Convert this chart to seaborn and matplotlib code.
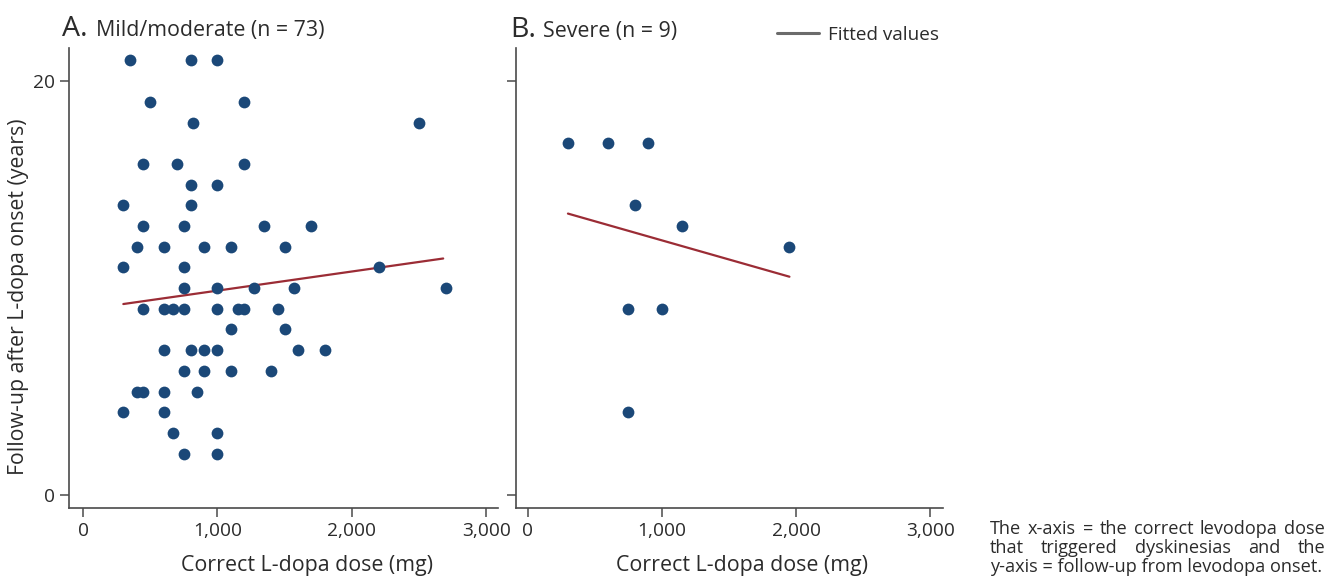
import matplotlib
matplotlib.use("Agg")
import matplotlib.pyplot as plt
import seaborn as sns
import pandas as pd
from matplotlib.lines import Line2D

# ---------------- data ----------------
mild_dose = [350, 800, 1000,
             500, 1200,
             820, 2500,
             450, 700, 1200,
             800, 1000,
             300, 800,
             450, 750, 1350, 1700,
             400, 600, 900, 1100, 1500,
             300, 750, 2200,
             750, 1000, 1275, 1570, 2700,
             450, 600, 670, 750, 1000, 1150, 1200, 1450,
             1100, 1500,
             600, 800, 900, 1000, 1600, 1800,
             750, 900, 1100, 1400,
             400, 450, 600, 850,
             300, 600,
             670, 1000,
             750, 1000]
mild_years = [21, 21, 21,
              19, 19,
              18, 18,
              16, 16, 16,
              15, 15,
              14, 14,
              13, 13, 13, 13,
              12, 12, 12, 12, 12,
              11, 11, 11,
              10, 10, 10, 10, 10,
              9, 9, 9, 9, 9, 9, 9, 9,
              8, 8,
              7, 7, 7, 7, 7, 7,
              6, 6, 6, 6,
              5, 5, 5, 5,
              4, 4,
              3, 3,
              2, 2]

severe_dose = [300, 600, 900, 800, 1150, 1950, 750, 1000, 750]
severe_years = [17, 17, 17, 14, 13, 12, 9, 9, 4]

fit_a_x = [300, 2680]
fit_a_y = [9.23, 11.43]
fit_b_x = [300, 1950]
fit_b_y = [13.6, 10.55]

x_ticks = [0, 1000, 2000, 3000]
x_ticklabels = ["0", "1,000", "2,000", "3,000"]
y_ticks = [0, 20]
y_ticklabels = ["0", "20"]

title_a_letter, title_a_text = "A.", "Mild/moderate (n = 73)"
title_b_letter, title_b_text = "B.", "Severe (n = 9)"
x_label = "Correct L-dopa dose (mg)"
y_label = "Follow-up after L-dopa onset (years)"
legend_label = "Fitted values"
caption_lines = ["The x-axis = the correct levodopa dose",
                 "that triggered dyskinesias and the",
                 "y-axis = follow-up from levodopa onset."]

# ---------------- style ----------------
sns.set_style("ticks")
plt.rcParams["font.family"] = ["Open Sans", "DejaVu Sans"]

POINT = "#1b4878"
FIT = "#9b2c35"
SPINE = "#4a4a4a"
TXT = "#2b2b2b"

W, H = 1327, 580
fig = plt.figure(figsize=(W / 100, H / 100), dpi=100)

axA_l, axA_r = 69.3, 498.3
axB_l, axB_r = 516, 943
ax_top, ax_bot = 48, 507.7
axA = fig.add_axes([axA_l / W, 1 - ax_bot / H, (axA_r - axA_l) / W, (ax_bot - ax_top) / H])
axB = fig.add_axes([axB_l / W, 1 - ax_bot / H, (axB_r - axB_l) / W, (ax_bot - ax_top) / H])

dfA = pd.DataFrame({"dose": mild_dose, "years": mild_years})
dfB = pd.DataFrame({"dose": severe_dose, "years": severe_years})
fitA = pd.DataFrame({"dose": fit_a_x, "years": fit_a_y})
fitB = pd.DataFrame({"dose": fit_b_x, "years": fit_b_y})

for ax, df, fit, xl in [(axA, dfA, fitA, (-102, 3090)), (axB, dfB, fitB, (-87, 3094))]:
    sns.scatterplot(data=df, x="dose", y="years", ax=ax, color=POINT, s=72,
                    linewidth=0, zorder=3)
    sns.lineplot(data=fit, x="dose", y="years", ax=ax, color=FIT, linewidth=1.6,
                 zorder=2)
    ax.set_xlim(*xl)
    ax.set_ylim(-0.61, 21.6)
    ax.set_xticks(x_ticks)
    ax.set_xticklabels(x_ticklabels)
    ax.set_yticks(y_ticks)
    ax.set_xlabel("")
    ax.set_ylabel("")
    for side in ["top", "right"]:
        ax.spines[side].set_visible(False)
    for side in ["left", "bottom"]:
        ax.spines[side].set_color(SPINE)
        ax.spines[side].set_linewidth(1.2)
    ax.tick_params(axis="both", length=6.5, width=1.1, color=SPINE,
                   labelsize=13.8, labelcolor=TXT, pad=4)

axA.set_yticklabels(y_ticklabels)
axB.set_yticklabels([])

# axis labels (centres)
for ax, l, r, cx in [(axA, axA_l, axA_r, 307), (axB, axB_l, axB_r, 742)]:
    ax.set_xlabel(x_label, fontsize=15.4, color=TXT)
    ax.xaxis.set_label_coords((cx - l) / (r - l), -(565 - ax_bot) / (ax_bot - ax_top))
    ax.xaxis.label.set_va("center")
fig.text(19 / W, 1 - 297 / H, y_label, rotation=90, fontsize=15.3, color=TXT,
         ha="center", va="center")

# titles
def title(x_px, y_px, letter, rest, gap):
    t1 = fig.text(x_px / W, 1 - y_px / H, letter, fontsize=20.5, color=TXT,
                  ha="left", va="baseline")
    fig.canvas.draw()
    bb = t1.get_window_extent()
    fig.text((bb.x1 + gap) / W, 1 - y_px / H, rest, fontsize=15.4, color=TXT,
             ha="left", va="baseline")

title(62.5, 36, title_a_letter, title_a_text, 8)
title(510, 37, title_b_letter, title_b_text, 7)

# legend
leg_handle = Line2D([], [], color="#6b6b6b", linewidth=2.2)
fig.legend([leg_handle], [legend_label], loc="center left",
           bbox_to_anchor=(760 / W, 1 - 35 / H), frameon=False,
           fontsize=13.6, handlelength=2.2, handletextpad=0.5,
           labelcolor=TXT)

# justified caption
renderer = fig.canvas.get_renderer()
left_px, right_px = 990, 1325
line_y = [529, 548, 567]
cap_fs = 13.1
for i, (line, yy) in enumerate(zip(caption_lines, line_y)):
    words = line.split(" ")
    if i == len(caption_lines) - 1:
        fig.text(left_px / W, 1 - yy / H, line, fontsize=cap_fs, color=TXT,
                 ha="left", va="center")
        continue
    widths = []
    for w in words:
        t = fig.text(0, 0, w, fontsize=cap_fs)
        widths.append(t.get_window_extent(renderer).width)
        t.remove()
    gap = ((right_px - left_px) - sum(widths)) / (len(words) - 1)
    x = left_px
    for w, wd in zip(words, widths):
        fig.text(x / W, 1 - yy / H, w, fontsize=cap_fs, color=TXT,
                 ha="left", va="center")
        x += wd + gap

fig.savefig("out.png", dpi=100)
